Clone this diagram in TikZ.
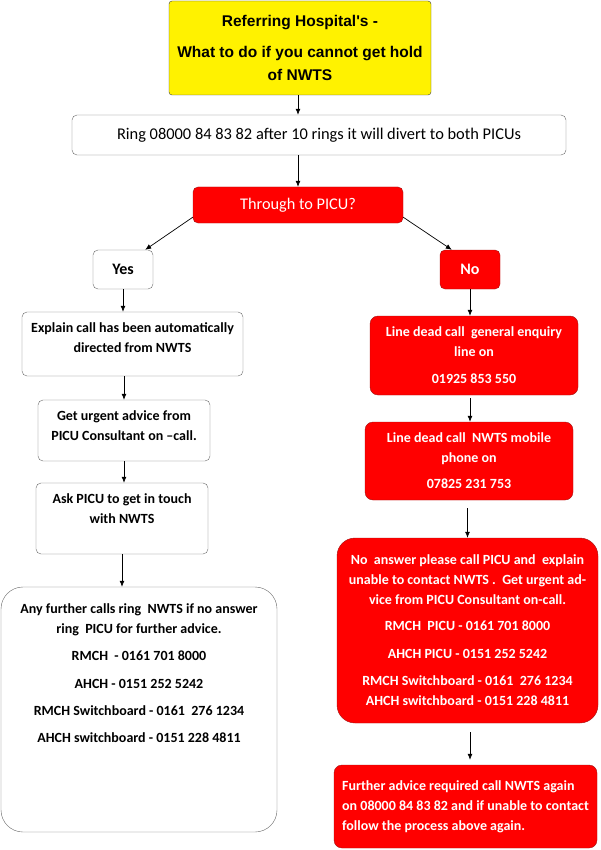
\documentclass[tikz,border=0pt]{standalone}
\usepackage{fontspec}
\setmainfont{Carlito}
\newfontfamily\titlefont{Liberation Sans}
\usetikzlibrary{arrows.meta}
\definecolor{boxred}{RGB}{255,0,0}
\definecolor{redline}{RGB}{160,20,20}
\definecolor{greyline}{RGB}{105,105,105}
\tikzset{
  whitebox/.style={draw=greyline,fill=white,rounded corners=5pt,align=center,inner sep=2pt,
    font=\bfseries\fontsize{14}{20}\selectfont},
  redbox/.style={whitebox,draw=redline,fill=boxred,text=white},
  arr/.style={-{Latex[length=6pt,width=5pt]},line width=0.7pt}
}
\begin{document}
\begin{tikzpicture}[x=1pt,y=-1pt]
  \useasboundingbox (0,0) rectangle (600,850);
  % top of the chart
  \node[draw=black!75,fill=yellow,rounded corners=3pt,align=center,minimum width=262pt,minimum height=94pt,
    font=\titlefont\bfseries\fontsize{15.5}{23}\selectfont] (title) at (300,48)
    {Referring Hospital's -\\[8pt]What to do if you cannot get hold\\of NWTS};
  \node[whitebox,font=\fontsize{16.4}{18}\selectfont,minimum width=494pt,minimum height=40pt] (ring) at (319,135)
    {Ring 08000 84 83 82 after 10 rings it will divert to both PICUs};
  \node[redbox,font=\fontsize{16.3}{18}\selectfont,minimum width=210pt,minimum height=36pt] (picu) at (298,205)
    {Through to PICU?};
  % yes side
  \node[whitebox,font=\bfseries\fontsize{16}{18}\selectfont,minimum width=60pt,minimum height=39pt] (yes) at (123,269.5) {Yes};
  \node[whitebox,minimum width=221pt,minimum height=64pt,text depth=12pt] (explain) at (132.5,344)
    {Explain call has been automatically\\directed from NWTS};
  \node[whitebox,minimum width=172pt,minimum height=61pt,text depth=10pt] (urgent) at (124,430.5)
    {Get urgent advice from\\PICU Consultant on \textendash call.};
  \node[whitebox,minimum width=172pt,minimum height=71pt,text depth=19pt] (ask) at (122,518.5)
    {Ask PICU to get in touch\\with NWTS};
  \node[whitebox,rounded corners=22pt,minimum width=276pt,minimum height=245pt,text depth=73pt] (further) at (139,709.5)
    {Any further calls ring\ \ NWTS if no answer\\ring\ \ PICU for further advice.\\[7pt]
     RMCH\ \ - 0161 701 8000\\[8pt]AHCH - 0151 252 5242\\[7pt]RMCH Switchboard - 0161\ \ 276 1234\\[7pt]
     AHCH switchboard - 0151 228 4811};
  % no side
  \node[redbox,font=\bfseries\fontsize{16}{18}\selectfont,minimum width=60pt,minimum height=39pt] (no) at (470,269.5) {No};
  \node[redbox,rounded corners=8pt,minimum width=208pt,minimum height=79pt] (dead1) at (474,355.5)
    {Line dead call\ \ general enquiry\\line on\\[7pt]01925 853 550};
  \node[redbox,rounded corners=8pt,minimum width=208pt,minimum height=78pt] (dead2) at (469,461)
    {Line dead call\ \ NWTS mobile\\phone on\\[6pt]07825 231 753};
  \node[redbox,rounded corners=18pt,minimum width=261pt,minimum height=185pt] (noans) at (467.5,630.5)
    {No\ \ answer please call PICU and\ \ explain\\unable to contact NWTS .\ \ Get urgent ad-\\
     vice from PICU Consultant on-call.\\[6pt]RMCH\ \ PICU - 0161 701 8000\\[8pt]AHCH PICU - 0151 252 5242\\[7pt]
     RMCH Switchboard - 0161\ \ 276 1234\\AHCH switchboard - 0151 228 4811};
  \node[redbox,rounded corners=8pt,align=left,minimum width=263pt,minimum height=83pt] (final) at (465.5,806.5)
    {Further advice required call NWTS again\\on 08000 84 83 82 and if unable to contact\\follow the process above again.};
  % connectors
  \draw[arr] (title.south -| picu.north) -- (picu.north |- ring.north);
  \draw[arr] (ring.south -| picu.north) -- (picu.north);
  \draw[arr] ([yshift=6pt]picu.south west) -- ([xshift=-8pt]yes.north east);
  \draw[arr] ([yshift=6pt]picu.south east) -- ([xshift=12pt]no.north west);
  \draw[arr] (yes.south) -- (yes.south |- explain.north);
  \draw[arr] (urgent.north |- explain.south) -- (urgent.north);
  \draw[arr] (urgent.south) -- (urgent.south |- ask.north);
  \draw[arr] (ask.south) -- (ask.south |- further.north);
  \draw[arr] (no.south) -- (no.south |- dead1.north);
  \draw[arr,shorten <=3pt] (dead1.south -| no.south) -- (no.south |- dead2.north);
  \draw[arr,shorten <=8pt] (dead2.south -| noans.north) -- (noans.north);
  \draw[arr,shorten <=9pt,shorten >=5pt] (noans.south -| no.south) -- (no.south |- final.north);
\end{tikzpicture}
\end{document}
